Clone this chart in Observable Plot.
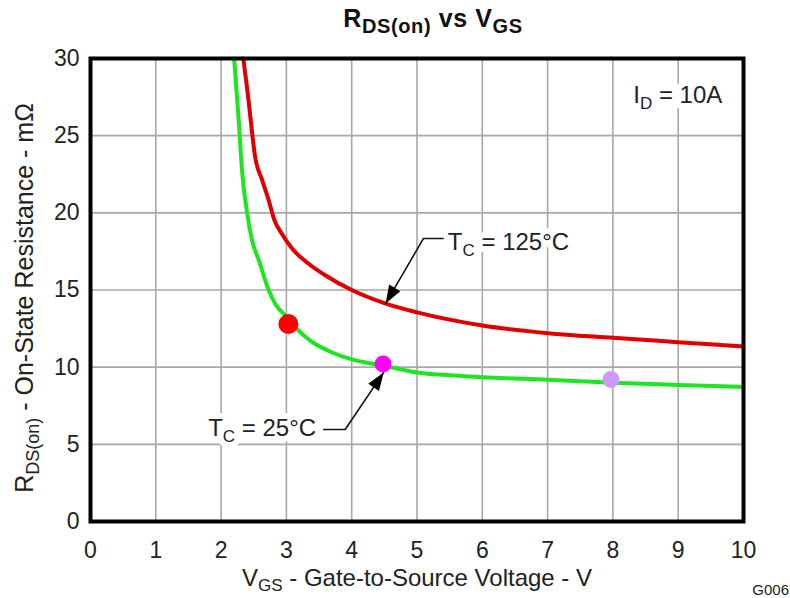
<!DOCTYPE html>
<html><head><meta charset="utf-8">
<script src="https://cdn.jsdelivr.net/npm/d3@7"></script>
<script src="https://cdn.jsdelivr.net/npm/@observablehq/plot@0.6"></script>
<style>
body{margin:0;background:#fff}
svg{font-family:"Liberation Sans",Arial,sans-serif}
</style>
</head><body><div id="chart"></div>
<script>
// Tc = 25°C curve
const vgs25 = [2.20, 2.27, 2.32, 2.40, 2.475, 2.58, 2.73, 2.83, 3.01, 3.18, 3.37, 3.70, 4.00, 4.34, 4.60, 5.00, 5.50, 6.00, 7.00, 8.00, 9.00, 10.0];
const rds25 = [30, 26.0, 22.75, 19.94, 18.2, 16.9, 14.97, 14.1, 13.24, 12.4, 11.7, 10.95, 10.5, 10.2, 10.0, 9.65, 9.47, 9.35, 9.18, 8.99, 8.85, 8.72];
// Tc = 125°C curve
const vgs125 = [2.34, 2.42, 2.48, 2.515, 2.63, 2.73, 2.81, 2.93, 3.09, 3.34, 3.60, 4.00, 4.50, 5.00, 6.00, 7.00, 8.00, 9.00, 10.0];
const rds125 = [30, 27.3, 25.0, 23.8, 22.1, 20.8, 19.6, 18.64, 17.67, 16.7, 15.94, 15.0, 14.15, 13.55, 12.7, 12.2, 11.9, 11.62, 11.34];
// highlighted points
const dotX = [3.03, 4.48, 7.97];
const dotY = [12.8, 10.2, 9.2];
const dotColor = ["#ff0000", "#ff00ff", "#cc99ff"];
const dotR = [10, 8.5, 8.5];
// ticks
const xTicks = [0, 1, 2, 3, 4, 5, 6, 7, 8, 9, 10];
const yTicks = [0, 5, 10, 15, 20, 25, 30];
// annotation leaders (data units)
const leaderId = ["hot", "hot", "hot", "cold", "cold", "cold"];
const leaderX = [5.40, 5.10, 4.52, 3.57, 3.90, 4.49];
const leaderY = [18.34, 18.34, 14.13, 5.96, 5.96, 9.66];
// annotation labels (data units of text start / baseline)
const noteX = [5.48, 1.81, 8.32];
const noteY = [17.56, 5.5, 27.1];
const noteMain = ["T", "T", "I"];
const noteSub = ["C", "C", "D"];
const noteRest = [" = 125°C", " = 25°C", " = 10A"];

const curve25 = vgs25.map((v, i) => ({v, r: rds25[i]}));
const curve125 = vgs125.map((v, i) => ({v, r: rds125[i]}));
const dots = dotX.map((x, i) => ({x, y: dotY[i], c: dotColor[i], r: dotR[i]}));
const leaders = leaderX.map((x, i) => ({id: leaderId[i], x, y: leaderY[i]}));

function filledArrow(color, context) {
  const doc = (context && context.document) || document;
  const m = doc.createElementNS("http://www.w3.org/2000/svg", "marker");
  m.setAttribute("viewBox", "-20 -10 22 20");
  m.setAttribute("markerWidth", 22);
  m.setAttribute("markerHeight", 20);
  m.setAttribute("markerUnits", "userSpaceOnUse");
  m.setAttribute("refX", 0);
  m.setAttribute("refY", 0);
  m.setAttribute("orient", "auto");
  const p = doc.createElementNS("http://www.w3.org/2000/svg", "path");
  p.setAttribute("d", "M-18,-6.5L0,0L-18,6.5Z");
  p.setAttribute("fill", "black");
  p.setAttribute("stroke", "none");
  m.appendChild(p);
  return m;
}

const grid = {stroke: "#a8a8a8", strokeOpacity: 1, strokeWidth: 1.6};

const plot = Plot.plot({
  width: 790, height: 598,
  marginLeft: 90, marginRight: 47, marginTop: 58, marginBottom: 77,
  x: {domain: [0, 10]},
  y: {domain: [0, 30]},
  r: {type: "identity"},
  style: {fontFamily: '"Liberation Sans", Arial, sans-serif', background: "white", overflow: "visible", color: "#222"},
  marks: [
    Plot.gridX(xTicks, grid),
    Plot.gridY(yTicks, grid),
    Plot.axisX(xTicks, {tickSize: 0, tickPadding: 20, fontSize: 23, label: null, tickFormat: d => String(d)}),
    Plot.axisY(yTicks, {tickSize: 0, tickPadding: 11, fontSize: 23, label: null, tickFormat: d => String(d)}),
    Plot.line(curve125, {x: "v", y: "r", stroke: "#e00000", strokeWidth: 4, curve: "monotone-x"}),
    Plot.line(curve25, {x: "v", y: "r", stroke: "#1ee61e", strokeWidth: 4, curve: "monotone-x"}),
    Plot.line(leaders, {x: "x", y: "y", z: "id", stroke: "#111", strokeWidth: 1.6, markerEnd: filledArrow}),
    Plot.dot(dots, {x: "x", y: "y", r: "r", fill: "c"}),
    Plot.frame({stroke: "black", strokeWidth: 4})
  ]
});

const svg = d3.select(plot);
const sx = plot.scale("x"), sy = plot.scale("y");

function richText(parent, parts, attrs) {
  const t = parent.append("text");
  Object.entries(attrs).forEach(([k, v]) => t.attr(k, v));
  parts.forEach(([s, size, dy]) => {
    const ts = t.append("tspan").text(s);
    if (size) ts.attr("font-size", size);
    if (dy) ts.attr("dy", dy);
  });
  return t;
}

// annotation labels with white halo, placed below the curves
const notes = svg.insert("g", 'g[aria-label="line"]');
noteX.forEach((x, i) => {
  const parts = [[noteMain[i]], [noteSub[i], 17, 6], [noteRest[i], null, -6]];
  const base = {x: sx.apply(x), y: sy.apply(noteY[i]), "font-size": 24, "text-anchor": "start"};
  richText(notes, parts, {...base, fill: "white", stroke: "white", "stroke-width": 12, "stroke-linejoin": "round"});
  richText(notes, parts, {...base, fill: "#222"});
});

// title
richText(svg, [["R"], ["DS(on)", 20, 6], [" vs V", null, -6], ["GS", 20, 6]],
  {x: 433, y: 27, "text-anchor": "middle", "font-size": 25, "font-weight": "bold", fill: "#111", "letter-spacing": 0.6});

// x label
richText(svg, [["V"], ["GS", 17, 5], [" - Gate-to-Source Voltage - V", null, -5]],
  {x: 417, y: 586, "text-anchor": "middle", "font-size": 24, fill: "#222"});

// y label
richText(svg, [["R"], ["DS(on)", 18, 6], [" - On-State Resistance - mΩ", null, -6]],
  {transform: "translate(33,298) rotate(-90)", "text-anchor": "middle", "font-size": 25, fill: "#222"});

// figure id
svg.append("text").attr("x", 789).attr("y", 595).attr("text-anchor", "end")
  .attr("font-size", 15).attr("fill", "#222").text("G006");

document.getElementById("chart").appendChild(plot);
</script>
</body></html>
